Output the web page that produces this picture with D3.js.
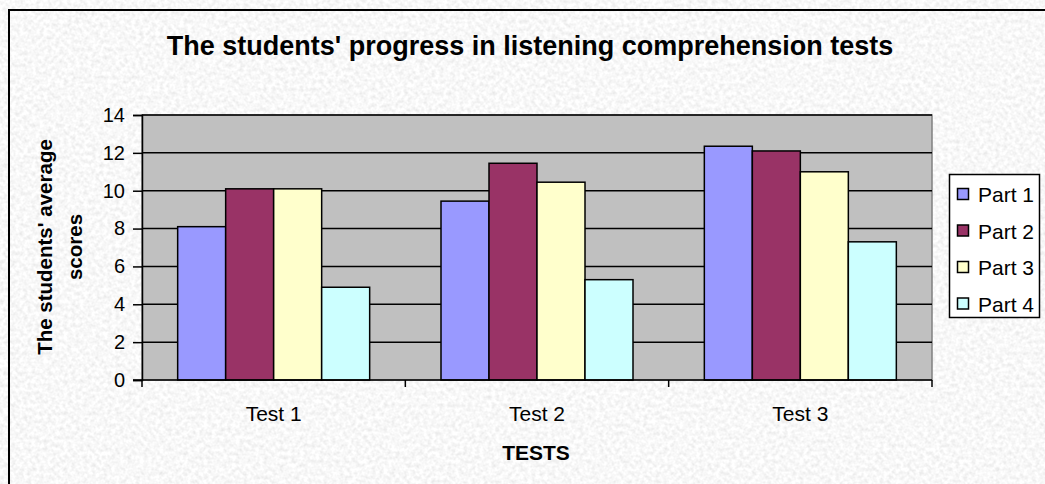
<!DOCTYPE html>
<html>
<head>
<meta charset="utf-8">
<script src="https://cdn.jsdelivr.net/npm/d3@7"></script>
<style>
  html, body { margin: 0; padding: 0; background: #ececec; }
  svg { display: block; font-family: "Liberation Sans", Arial, sans-serif; }
</style>
</head>
<body>
<svg id="chart" width="1045" height="484"></svg>
<script>
// chart data
var tests = ["Test 1", "Test 2", "Test 3"];
var parts = ["Part 1", "Part 2", "Part 3", "Part 4"];
var part1 = [8.1, 9.45, 12.35];
var part2 = [10.1, 11.45, 12.1];
var part3 = [10.1, 10.45, 11.0];
var part4 = [4.9, 5.3, 7.3];
var yTicks = [0, 2, 4, 6, 8, 10, 12, 14];
var colors = ["#9999ff", "#993366", "#ffffcc", "#ccffff"];

var seriesValues = [part1, part2, part3, part4];

var attrs = {
  width: 1045,
  height: 484,
  plotLeft: 142,
  plotRight: 932,
  plotTop: 115,
  plotBottom: 380,
  barWidth: 48,
  labelFont: 21,
  tickFont: 20
};

var svg = d3.select("#chart");

// granite-like background texture
var defs = svg.append("defs");
var filter = defs.append("filter").attr("id", "granite")
  .attr("x", 0).attr("y", 0).attr("width", "100%").attr("height", "100%");
filter.append("feTurbulence")
  .attr("type", "fractalNoise")
  .attr("baseFrequency", 0.25)
  .attr("numOctaves", 3)
  .attr("seed", 7)
  .attr("result", "noise");
filter.append("feColorMatrix")
  .attr("in", "noise")
  .attr("type", "matrix")
  .attr("values", "0.34 0 0 0 0.77  0.34 0 0 0 0.77  0.34 0 0 0 0.77  0 0 0 0 1");

svg.append("rect")
  .attr("width", attrs.width)
  .attr("height", attrs.height)
  .attr("filter", "url(#granite)");

// outer frame (clipped on right and bottom)
svg.append("rect")
  .attr("x", 9).attr("y", 10)
  .attr("width", 1100).attr("height", 600)
  .attr("fill", "none")
  .attr("stroke", "#000")
  .attr("stroke-width", 2);

var x0 = d3.scaleBand()
  .domain(tests)
  .range([attrs.plotLeft, attrs.plotRight])
  .paddingInner(0)
  .paddingOuter(0);

var y = d3.scaleLinear()
  .domain([0, 14])
  .range([attrs.plotBottom, attrs.plotTop]);

// plot area
svg.append("rect")
  .attr("x", attrs.plotLeft).attr("y", attrs.plotTop)
  .attr("width", attrs.plotRight - attrs.plotLeft)
  .attr("height", attrs.plotBottom - attrs.plotTop)
  .attr("fill", "#c0c0c0")
  .attr("stroke", "#808080")
  .attr("stroke-width", 1.5);

// gridlines
svg.append("g")
  .selectAll("line")
  .data(yTicks.filter(d => d > 0))
  .enter().append("line")
  .attr("x1", attrs.plotLeft).attr("x2", attrs.plotRight)
  .attr("y1", d => y(d)).attr("y2", d => y(d))
  .attr("stroke", "#000").attr("stroke-width", 1.5);

// bars
var groups = svg.append("g")
  .selectAll("g")
  .data(tests)
  .enter().append("g")
  .attr("transform", d => "translate(" + (x0(d) + (x0.bandwidth() - parts.length * attrs.barWidth) / 2) + ",0)");

groups.selectAll("rect")
  .data((d, i) => parts.map((p, j) => ({ part: p, value: seriesValues[j][i], idx: j })))
  .enter().append("rect")
  .attr("x", d => d.idx * attrs.barWidth)
  .attr("y", d => y(d.value))
  .attr("width", attrs.barWidth)
  .attr("height", d => y(0) - y(d.value))
  .attr("fill", d => colors[d.idx])
  .attr("stroke", "#000")
  .attr("stroke-width", 1.5);

// y axis
var yAxis = d3.axisLeft(y).tickValues(yTicks).tickSize(9).tickPadding(8);
var yG = svg.append("g")
  .attr("transform", "translate(" + attrs.plotLeft + ",0)")
  .attr("font-size", attrs.tickFont)
  .attr("font-family", "Liberation Sans, Arial, sans-serif")
  .call(yAxis);
yG.attr("font-size", attrs.tickFont).attr("font-family", "Liberation Sans, Arial, sans-serif");
yG.select(".domain").attr("stroke", "#000").attr("stroke-width", 1.5);
yG.selectAll(".tick line").attr("stroke", "#000").attr("stroke-width", 1.5);
yG.selectAll("text")
  .attr("font-size", attrs.tickFont)
  .attr("fill", "#000");

// x axis
var xAxisLine = svg.append("g");
xAxisLine.append("line")
  .attr("x1", attrs.plotLeft - 9).attr("x2", attrs.plotRight)
  .attr("y1", attrs.plotBottom).attr("y2", attrs.plotBottom)
  .attr("stroke", "#000").attr("stroke-width", 1.5);
var catEdges = [attrs.plotLeft].concat(tests.map(t => x0(t) + x0.bandwidth()));
xAxisLine.selectAll(".cat-tick")
  .data(catEdges)
  .enter().append("line")
  .attr("class", "cat-tick")
  .attr("x1", d => d).attr("x2", d => d)
  .attr("y1", attrs.plotBottom).attr("y2", attrs.plotBottom + 7)
  .attr("stroke", "#000").attr("stroke-width", 1.5);
xAxisLine.selectAll(".cat-label")
  .data(tests)
  .enter().append("text")
  .attr("class", "cat-label")
  .attr("x", d => x0(d) + x0.bandwidth() / 2)
  .attr("y", 421)
  .attr("text-anchor", "middle")
  .attr("font-size", attrs.labelFont)
  .text(d => d);

// title
svg.append("text")
  .attr("x", 530).attr("y", 55)
  .attr("text-anchor", "middle")
  .attr("font-size", 27)
  .attr("font-weight", "bold")
  .text("The students' progress in listening comprehension tests");

// x axis title
svg.append("text")
  .attr("x", 536).attr("y", 460)
  .attr("text-anchor", "middle")
  .attr("font-size", attrs.labelFont)
  .attr("font-weight", "bold")
  .text("TESTS");

// y axis title (two lines)
var yTitle = svg.append("text")
  .attr("transform", "translate(0,247) rotate(-90)")
  .attr("text-anchor", "middle")
  .attr("font-size", 20.5)
  .attr("font-weight", "bold");
yTitle.append("tspan").attr("x", 0).attr("y", 52).text("The students' average");
yTitle.append("tspan").attr("x", 0).attr("y", 82).text("scores");

// legend
var legend = svg.append("g").attr("transform", "translate(949,174)");
legend.append("rect")
  .attr("x", 0.5).attr("y", 0.5)
  .attr("width", 90).attr("height", 143)
  .attr("fill", "#fff")
  .attr("stroke", "#000")
  .attr("stroke-width", 1.5);
var legendItem = legend.selectAll(".legend-item")
  .data(parts)
  .enter().append("g")
  .attr("class", "legend-item")
  .attr("transform", (d, i) => "translate(0," + (20 + i * 36.5) + ")");
legendItem.append("rect")
  .attr("x", 8.5).attr("y", -5.5)
  .attr("width", 11).attr("height", 11)
  .attr("fill", (d, i) => colors[i])
  .attr("stroke", "#000")
  .attr("stroke-width", 1.5);
legendItem.append("text")
  .attr("x", 29).attr("y", 8)
  .attr("font-size", attrs.labelFont)
  .text(d => d);
</script>
</body>
</html>
